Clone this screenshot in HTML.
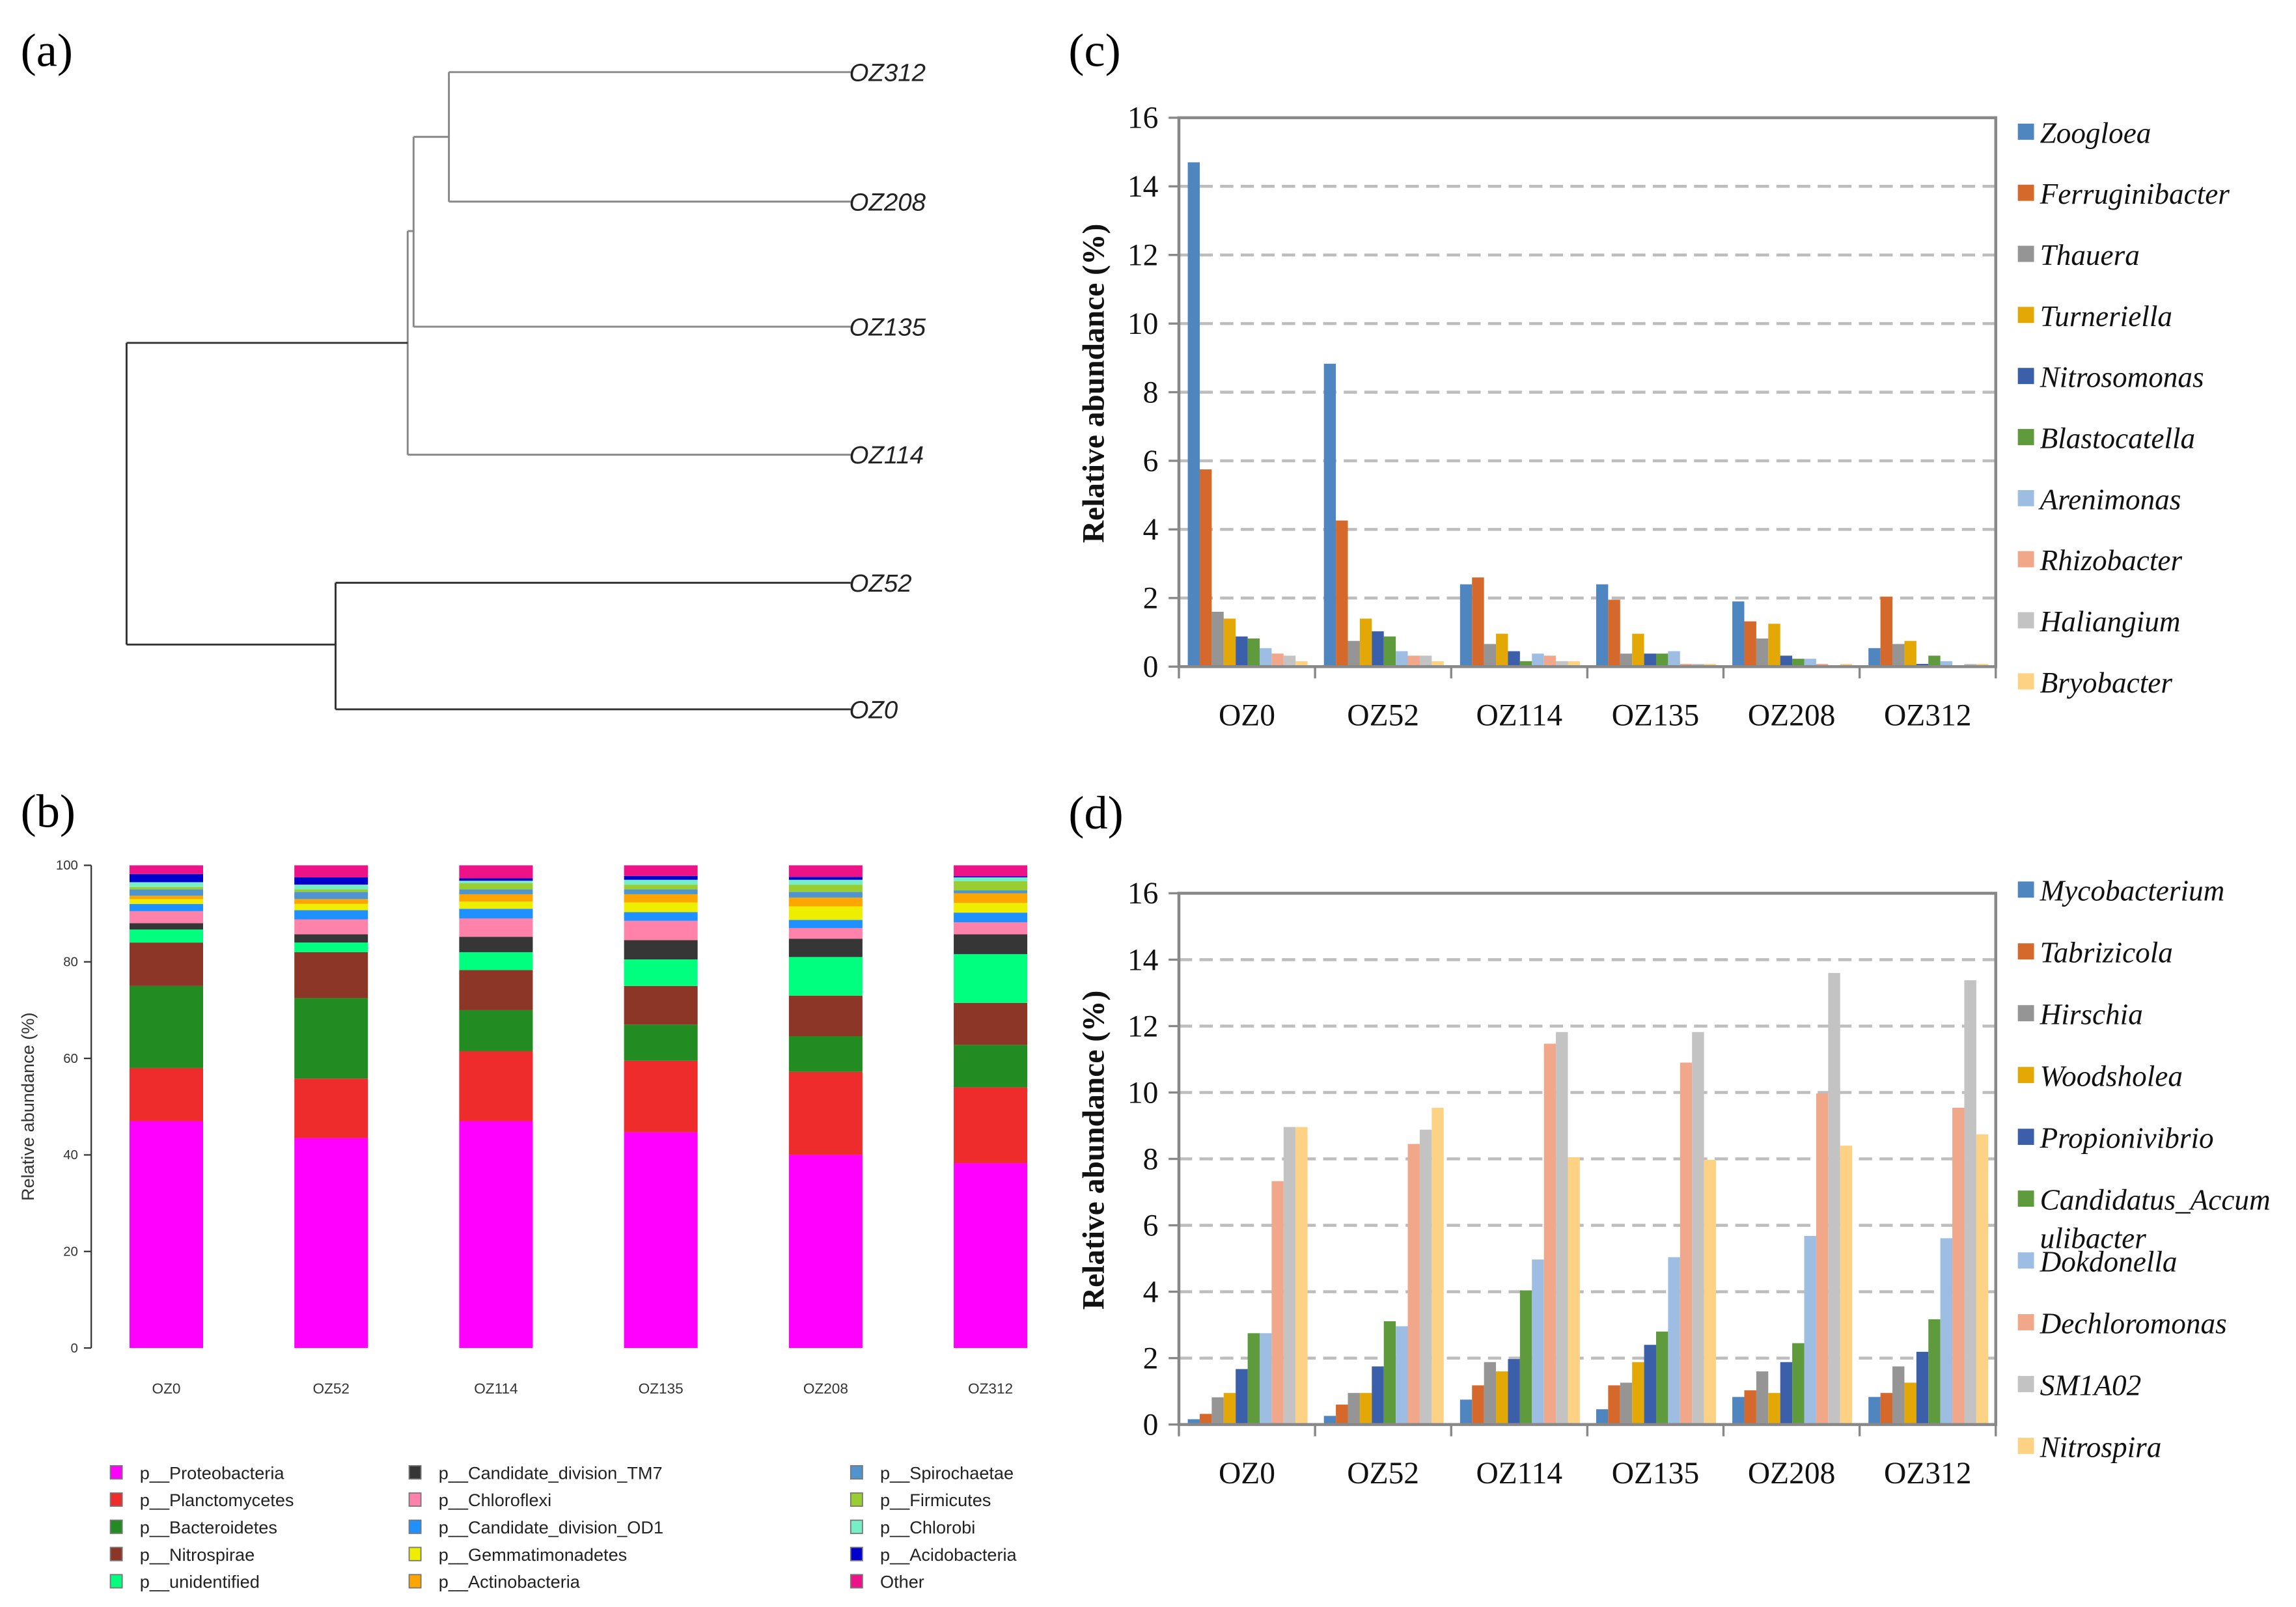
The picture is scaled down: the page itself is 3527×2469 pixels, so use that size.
<!DOCTYPE html>
<html><head><meta charset="utf-8">
<style>
html,body{margin:0;padding:0;background:#fff;}
svg{display:block;}
.tnr{font-family:"Liberation Serif",serif;}
.sans{font-family:"Liberation Sans",sans-serif;}
</style></head>
<body>
<svg id="fig" width="3527" height="2469" viewBox="0 0 1560 1092" preserveAspectRatio="none" xmlns="http://www.w3.org/2000/svg">
<rect x="0" y="0" width="1560" height="1092" fill="#fff"/>
<text class="tnr" x="14" y="45" font-size="32">(a)</text>
<text class="tnr" x="14" y="562" font-size="32">(b)</text>
<text class="tnr" x="726" y="45" font-size="32">(c)</text>
<text class="tnr" x="726" y="563" font-size="32">(d)</text>
<g id="dendro" fill="none" stroke-width="1.3">
<path d="M305,49 H578 M305,137 H578 M305,49 V137" stroke="#888"/>
<path d="M281,93 H305 M281,93 V222 M281,222 H578" stroke="#888"/>
<path d="M277,157 H281 M277,157 V309 M277,309 H578" stroke="#888"/>
<path d="M86,233 H277 M86,233 V438 M86,438 H228 M228,396 V482 M228,396 H578 M228,482 H578" stroke="#333"/>
</g>
<g class="sans" font-style="italic" font-size="17" fill="#222">
<text x="577" y="55">OZ312</text>
<text x="577" y="143">OZ208</text>
<text x="577" y="228">OZ135</text>
<text x="577" y="315">OZ114</text>
<text x="577" y="402">OZ52</text>
<text x="577" y="488">OZ0</text>
</g>
<g id="pb"></g><g id="pc"></g><g id="pd"></g>
</svg>
<script>
const samples = ["OZ0","OZ52","OZ114","OZ135","OZ208","OZ312"];
const phyla = ["p__Proteobacteria","p__Planctomycetes","p__Bacteroidetes","p__Nitrospirae","p__unidentified","p__Candidate_division_TM7","p__Chloroflexi","p__Candidate_division_OD1","p__Gemmatimonadetes","p__Actinobacteria","p__Spirochaetae","p__Firmicutes","p__Chlorobi","p__Acidobacteria","Other"];
const phylaColors = ["#ff00ff","#ee2c2c","#228b22","#8b3626","#00ff7f","#363636","#ff82ab","#1e90ff","#eeee00","#ffa500","#4f94cd","#9acd32","#76eec6","#0000cd","#ee1289"];
const stOZ0 = [47,11,17,9,2.7,1.3,2.5,1.5,1,0.7,1.3,0.5,1,1.7,1.8];
const stOZ52 = [43.5,12.3,16.7,9.5,2,1.7,3.1,1.9,1.3,1,1.5,0.5,1,1.5,2.5];
const stOZ114 = [47,14.5,8.5,8.3,3.7,3.2,3.8,2,1.5,1.5,1,1.3,0.5,0.5,2.7];
const stOZ135 = [44.7,14.8,7.5,8,5.5,4,4,1.8,2,1.7,1,1,1,0.8,2.2];
const stOZ208 = [40,17.2,7.4,8.4,8,3.8,2.2,1.7,2.8,1.8,1.2,1.5,1,0.6,2.4];
const stOZ312 = [38.3,15.7,8.8,8.7,10.1,4.1,2.5,2,2,2,0.6,1.9,0.8,0.2,2.3];
const stacks = [stOZ0,stOZ52,stOZ114,stOZ135,stOZ208,stOZ312];
const bTicks = [0,20,40,60,80,100];

const cGenera = ["Zoogloea","Ferruginibacter","Thauera","Turneriella","Nitrosomonas","Blastocatella","Arenimonas","Rhizobacter","Haliangium","Bryobacter"];
const cOZ0 = [14.7,5.75,1.6,1.4,0.88,0.82,0.54,0.38,0.32,0.16];
const cOZ52 = [8.83,4.26,0.75,1.4,1.03,0.88,0.45,0.32,0.32,0.16];
const cOZ114 = [2.4,2.6,0.66,0.96,0.45,0.16,0.38,0.32,0.16,0.16];
const cOZ135 = [2.4,1.95,0.38,0.96,0.38,0.38,0.45,0.08,0.08,0.08];
const cOZ208 = [1.9,1.32,0.82,1.25,0.32,0.23,0.23,0.08,0.04,0.08];
const cOZ312 = [0.54,2.04,0.66,0.75,0.08,0.32,0.16,0.04,0.08,0.08];
const cValues = [cOZ0,cOZ52,cOZ114,cOZ135,cOZ208,cOZ312];

const dGenera = ["Mycobacterium","Tabrizicola","Hirschia","Woodsholea","Propionivibrio","Candidatus_Accumulibacter","Dokdonella","Dechloromonas","SM1A02","Nitrospira"];
const dOZ0 = [0.16,0.32,0.82,0.95,1.67,2.75,2.75,7.33,8.96,8.96];
const dOZ52 = [0.26,0.6,0.95,0.95,1.75,3.11,2.96,8.45,8.88,9.54];
const dOZ114 = [0.75,1.18,1.88,1.6,1.97,4.04,4.97,11.47,11.82,8.05];
const dOZ135 = [0.46,1.18,1.26,1.88,2.4,2.8,5.04,10.9,11.82,7.97];
const dOZ208 = [0.83,1.03,1.6,0.95,1.88,2.45,5.68,9.97,13.6,8.4];
const dOZ312 = [0.83,0.95,1.75,1.26,2.19,3.17,5.61,9.54,13.38,8.74];
const dValues = [dOZ0,dOZ52,dOZ114,dOZ135,dOZ208,dOZ312];
const gTicks = [0,2,4,6,8,10,12,14,16];
const gColors = ["#4f86bf","#d4692b","#959595","#e3a805","#3b5fa8","#5f9a3c","#9dbde2","#f0a78a","#c3c3c3","#fdd284"];

const NS="http://www.w3.org/2000/svg";
function mk(parent,tag,attrs,text){const e=document.createElementNS(NS,tag);for(const k in attrs)e.setAttribute(k,attrs[k]);if(text!==undefined)e.textContent=text;parent.appendChild(e);return e;}

(function(){
  const g=document.getElementById('pb');
  const y0=916,y1=588,axX=62;
  const yS=v=>y0-(v/100)*(y0-y1);
  const xS=i=>88+i*112;
  const bw=50;
  const ax=mk(g,'line',{x1:axX,y1:y1,x2:axX,y2:y0,stroke:'#333','stroke-width':1});
  
  
  bTicks.forEach(t=>{
    const l=mk(g,'line',{x1:axX-5,y1:yS(t),x2:axX,y2:yS(t),stroke:'#333','stroke-width':1});
    
    
    const tx=mk(g,'text',{x:axX-9,y:yS(t)+3,'font-size':9,'text-anchor':'end','class':'sans',fill:'#333'},String(t));
    
    
  });
  const yt=mk(g,'text',{x:0,y:0,'font-size':12,'text-anchor':'middle','class':'sans',fill:'#333',transform:'translate(23,752) rotate(-90)'},'Relative abundance (%)');
  
  
  stacks.forEach((st,i)=>{
    let cum=0;
    st.forEach((v,j)=>{
      const r=mk(g,'rect',{x:xS(i),y:yS(Math.min(100,cum+v)),width:bw,height:yS(cum)-yS(Math.min(100,cum+v)),fill:phylaColors[j]});
      
      
      cum+=v;
    });
    const tx=mk(g,'text',{x:xS(i)+bw/2,y:947,'font-size':10,'text-anchor':'middle','class':'sans',fill:'#333'},samples[i]);
    
    
  });
  const colX=[75,278,578];
  phyla.forEach((p,k)=>{
    const c=Math.floor(k/5),r=k%5;
    const yy=1001+r*18.5;
    const sq=mk(g,'rect',{x:colX[c],y:yy-5,width:8,height:9,fill:phylaColors[k],stroke:'#777','stroke-width':0.8});
    
    
    const tx=mk(g,'text',{x:colX[c]+20,y:yy+4,'font-size':12,'class':'sans',fill:'#222'},p);
    
    
  });
})();

function grouped(id,pfx,vals,genera,top,bottom,legendY,legendLabels){
  const g=document.getElementById(id);
  const L=801,R=1356;
  const yS=v=>bottom-(v/16)*(bottom-top);
  const gw=(R-L)/samples.length;
  const bw=gw*0.088, off=gw*0.065;
  gTicks.forEach(t=>{
    if(t>0&&t<16){
      const l=mk(g,'line',{x1:L,y1:yS(t),x2:R,y2:yS(t),stroke:'#bdbdbd','stroke-width':2,'stroke-dasharray':'9,5'});
      
      
    }
    const tk=mk(g,'line',{x1:L-7,y1:yS(t),x2:L,y2:yS(t),stroke:'#888','stroke-width':1.5});
    
    
    const tx=mk(g,'text',{x:L-14,y:yS(t)+7,'font-size':21,'text-anchor':'end','class':'tnr',fill:'#111'},String(t));
    
    
  });
  vals.forEach((arr,i)=>{
    arr.forEach((v,j)=>{
      const r=mk(g,'rect',{x:L+i*gw+off+j*bw,y:yS(v),width:bw,height:bottom-yS(v),fill:gColors[j]});
      
      
    });
    const tx=mk(g,'text',{x:L+i*gw+gw/2,y:bottom+40,'font-size':21,'text-anchor':'middle','class':'tnr',fill:'#111'},samples[i]);
    
    
  });
  for(let i=0;i<=samples.length;i++){
    const tk=mk(g,'line',{x1:L+i*gw,y1:bottom,x2:L+i*gw,y2:bottom+8,stroke:'#888','stroke-width':1.5});
    
    
  }
  const fr=mk(g,'rect',{x:L,y:top,width:R-L,height:bottom-top,fill:'none',stroke:'#888','stroke-width':2});
  
  
  const yt=mk(g,'text',{x:0,y:0,'font-size':21,'font-weight':'bold','text-anchor':'middle','class':'tnr',fill:'#111',transform:'translate(750,'+((top+bottom)/2-6)+') rotate(-90)'},'Relative abundance  (%)');
  
  
  legendY.forEach((yy,k)=>{
    const sq=mk(g,'rect',{x:1371,y:yy-6,width:11,height:11,fill:gColors[k]});
    
    
    const lines=legendLabels[k];
    lines.forEach((ln,m)=>{
      const tx=mk(g,'text',{x:1386,y:yy+7+m*26,'font-size':20,'font-style':'italic','class':'tnr',fill:'#111'},ln);
      
      
    });
  });
}
grouped('pc','c',cValues,cGenera,80,453,[90,131.5,173,214.5,256,297.5,339,380.5,422,463.5],cGenera.map(s=>[s]));
grouped('pd','d',dValues,dGenera,607,968,[605,647,689,731,773,815,857,899,941,983],dGenera.map(s=>s==="Candidatus_Accumulibacter"?["Candidatus_Accum","ulibacter"]:[s]));
</script>
</body></html>
